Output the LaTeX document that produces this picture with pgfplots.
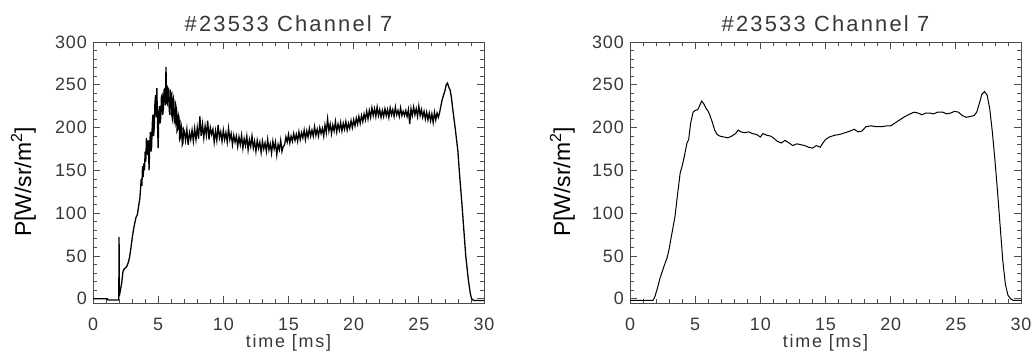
\documentclass[border=0pt]{standalone}
\usepackage{fontspec}
\setmainfont{Liberation Sans}
\newfontfamily\thinfont[LetterSpace=5]{Liberation Sans}
\newfontfamily\labelfont[LetterSpace=10]{Liberation Sans}
\newfontfamily\titlefont[LetterSpace=10]{Liberation Sans}
\usepackage{pgfplots}
\pgfplotsset{compat=1.18}
\pgfplotsset{
  idl/.style={
    width=391bp, height=261bp, scale only axis,
    xmin=0, xmax=30, ymin=-5, ymax=300,
    xtick={0,5,...,30}, ytick={0,50,...,300},
    minor x tick num=4, minor y tick num=4,
    tick align=inside,
    major tick length=7bp, minor tick length=4bp,
    axis line style={black!70, line width=0.8bp},
    every tick/.style={black!70, line width=0.8bp},
    /pgf/number format/assume math mode=true,
    tick label style={font=\thinfont\fontsize{18}{20}\selectfont, text=black!78, inner sep=0pt},
    xticklabel style={anchor=base, yshift=-27bp},
    yticklabel style={anchor=east, xshift=-6bp},
    clip=false,
  }
}
\begin{document}
\begin{tikzpicture}
\useasboundingbox (0,0) rectangle (1033bp,354bp);
\begin{axis}[idl, at={(93bp,51bp)}, anchor=south west]
\addplot[black, line width=1.3bp] table {
x y
0 0
1.1 0
1.15 -1.5
1.98 -1.5
2.0 72
2.02 3
2.1 10
2.2 18
2.3 32
2.4 35
2.5 36
2.6 38
2.7 42
2.8 48
2.9 58
3.0 70
3.1 80
3.2 88
3.3 95
3.4 98
3.5 108
3.6 118
3.7 140
3.75 132
3.8 155
3.85 142
3.9 158
3.95 150
4.0 172
4.05 160
4.1 188
4.15 176
4.2 168
4.25 185
4.3 150
4.35 178
4.4 195
4.45 172
4.5 178
4.55 205
4.6 215
4.65 190
4.7 200
4.75 228
4.8 238
4.85 212
4.9 246
4.95 205
5.0 176
5.05 218
5.1 225
5.15 205
5.2 212
5.25 236
5.3 238
5.35 215
5.4 222
5.45 244
5.5 245
5.55 226
5.6 271
5.65 230
5.7 228
5.75 246
5.8 244
5.85 220
5.9 215
5.95 242
6.0 240
6.05 214
6.1 210
6.15 236
6.2 232
6.25 208
6.3 205
6.35 226
6.4 222
6.45 196
6.5 198
6.55 215
6.6 212
6.65 186
6.7 188
6.75 204
6.8 200
6.85 180
6.9 182
6.95 198
7.0 196
7.1 185
7.2 198
7.3 180
7.4 194
7.5 186
7.6 197
7.7 184
7.8 199
7.9 186
8.0 200
8.1 187
8.2 213
8.3 190
8.4 204
8.5 188
8.6 202
8.7 191
8.8 208
8.9 186
9.0 200
9.1 192
9.2 198
9.3 183
9.4 196
9.5 185
9.6 203
9.7 188
9.8 195
9.9 184
10.0 197
10.1 186
10.2 194
10.3 183
10.4 199
10.5 186
10.6 193
10.7 180
10.8 191
10.9 183
11.0 190
11.1 178
11.2 189
11.3 180
11.4 191
11.5 176
11.6 187
11.7 179
11.8 190
11.9 174
12.0 186
12.1 178
12.2 190
12.3 176
12.4 184
12.5 172
12.6 185
12.7 176
12.8 183
12.9 171
13.0 184
13.1 175
13.2 182
13.3 172
13.4 186
13.5 174
13.6 181
13.7 170
13.8 184
13.9 175
14.0 183
14.1 168
14.2 180
14.3 174
14.4 185
14.5 172
14.6 178
14.7 180
14.8 189
14.9 183
15.0 192
15.1 182
15.2 190
15.3 184
15.4 193
15.5 185
15.6 192
15.7 184
15.8 195
15.9 186
16.0 194
16.1 188
16.2 197
16.3 186
16.4 196
16.5 189
16.6 199
16.7 190
16.8 197
16.9 190
17.0 201
17.1 191
17.2 198
17.3 190
17.4 200
17.5 193
17.6 199
17.7 190
17.8 203
17.9 194
18.0 210
18.1 196
18.2 204
18.3 193
18.4 203
18.5 196
18.6 207
18.7 195
18.8 204
18.9 197
19.0 206
19.1 196
19.2 205
19.3 198
19.4 207
19.5 197
19.6 205
19.7 199
19.8 208
19.9 200
20.0 209
20.1 202
20.2 211
20.3 204
20.4 213
20.5 205
20.6 214
20.7 207
20.8 216
20.9 209
21.0 219
21.1 210
21.2 220
21.3 212
21.4 223
21.5 214
21.6 222
21.7 213
21.8 224
21.9 214
22.0 221
22.1 212
22.2 220
22.3 213
22.4 222
22.5 214
22.6 221
22.7 212
22.8 223
22.9 215
23.0 221
23.1 213
23.2 224
23.3 215
23.4 220
23.5 213
23.6 223
23.7 214
23.8 219
23.9 214
24.0 220
24.1 213
24.2 221
24.3 204
24.4 222
24.5 214
24.6 224
24.7 215
24.8 222
24.9 213
25.0 225
25.1 214
25.2 221
25.3 212
25.4 219
25.5 210
25.6 218
25.7 209
25.8 217
25.9 208
26.0 216
26.1 206
26.2 218
26.3 209
26.4 217
26.5 212
26.6 218
26.7 226
26.8 233
26.9 238
27.0 243
27.1 250
27.2 252
27.3 247
27.4 244
27.5 235
27.6 222
27.7 210
27.8 198
28.0 172
28.1 150
28.3 112
28.6 50
28.8 22
28.95 6
29.05 0
29.2 -2
30 -2
};
\end{axis}
\begin{axis}[idl, at={(630bp,51bp)}, anchor=south west]
\addplot[black, line width=1.0bp] table {
x y
0 -2
1.77 -2
1.9 2
2.1 12
2.3 24
2.5 33
2.7 42
2.85 48
3.0 58
3.2 75
3.45 96
3.65 122
3.85 147
4.0 155
4.15 165
4.37 182
4.5 186
4.65 205
4.84 218
5.0 220
5.2 221
5.35 226
5.5 231
5.65 228
5.85 222
6.0 219
6.14 214
6.3 207
6.5 197
6.68 192
6.9 190
7.2 189
7.5 188
7.8 190
8.1 193
8.3 197
8.5 195
8.8 194
9.1 195
9.4 193
9.7 192
10.0 189
10.2 193
10.5 191
10.8 190
11.0 188
11.3 184
11.6 182
11.9 185
12.2 182
12.5 179
12.8 181
13.1 180
13.4 179
13.7 177
14.0 176
14.3 179
14.6 177
14.8 182
15.0 186
15.3 189
15.7 191
16.1 192
16.5 194
16.9 196
17.2 198
17.5 195
17.8 196
18.1 201
18.5 202
18.9 201
19.3 201
19.7 202
20.0 202
20.3 205
20.7 209
21.1 213
21.5 216
21.8 218
22.1 217
22.4 215
22.7 217
23.0 217
23.3 216
23.6 218
24.0 218
24.3 216
24.6 217
24.9 219
25.2 218
25.5 214
25.8 212
26.1 213
26.4 214
26.6 218
26.8 228
27.0 239
27.2 242
27.4 238
27.6 222
27.8 195
28.0 162
28.2 125
28.4 85
28.6 45
28.8 17
29.0 4
29.2 0
29.4 -2
30 -2
};
\end{axis}
% titles and labels
\node[anchor=base, text=black!78, font=\titlefont\fontsize{22}{24}\selectfont] at (288.5bp,322bp) {\#23533 Channel 7};
\node[anchor=base, text=black!78, font=\titlefont\fontsize{22}{24}\selectfont] at (825.5bp,322bp) {\#23533 Channel 7};
\node[anchor=base, text=black!78, font=\labelfont\fontsize{18}{20}\selectfont] at (288.5bp,7bp) {time [ms]};
\node[anchor=base, text=black!78, font=\labelfont\fontsize{18}{20}\selectfont] at (825.5bp,7bp) {time [ms]};
\node[anchor=base, rotate=90, font=\fontsize{23}{25}\selectfont] at (31bp,172bp) {P[W/sr/m\textsuperscript{2}]};
\node[anchor=base, rotate=90, font=\fontsize{23}{25}\selectfont] at (570bp,172bp) {P[W/sr/m\textsuperscript{2}]};
\end{tikzpicture}
\end{document}
